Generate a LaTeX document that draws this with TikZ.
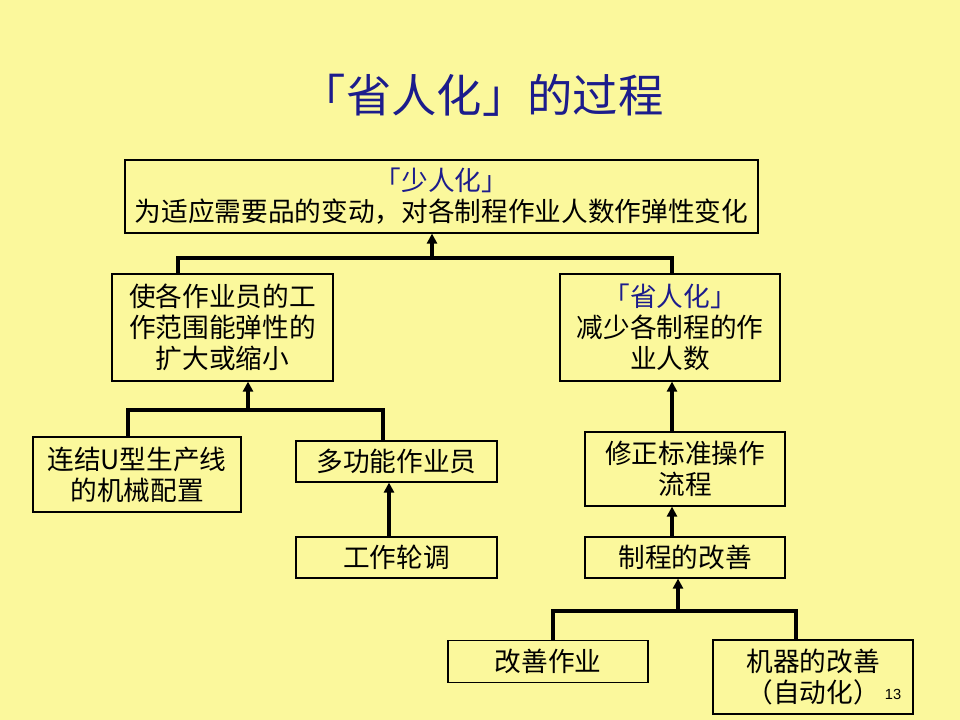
\documentclass[tikz,border=0pt]{standalone}
\usepackage{fontspec}
\newfontfamily\cjk{Noto Sans CJK SC}
\newfontfamily\pnfont{Liberation Sans}
\usetikzlibrary{arrows.meta}
\definecolor{bg}{HTML}{FBF89C}
\definecolor{tblue}{HTML}{1C1C8C}
\begin{document}
\begin{tikzpicture}[x=0.75pt,y=-0.75pt,
 box/.style={draw=black, line width=0.9pt, inner sep=0pt, align=center,
   font=\cjk\fontsize{20}{23.4}\selectfont, text=black},
 conn/.style={line width=2.6pt},
 arr/.style={line width=2.6pt,-{Triangle[length=7.5pt,width=7.5pt]}}]
\fill[bg] (0,0) rectangle (960,720);
\useasboundingbox (0,0) rectangle (960,720);

\node[font=\cjk\fontsize{34}{40}\selectfont, text=tblue] (title) at (482,95) {「省人化」的过程};

\node[box, minimum width=633*0.75pt, minimum height=73*0.75pt] (top) at (441.5,196.5)
  {\textcolor{tblue}{「少人化」}\\为适应需要品的变动，对各制程作业人数作弹性变化};
\node[box, minimum width=221*0.75pt, minimum height=107*0.75pt] (left2) at (222.5,327.5)
  {使各作业员的工\\作范围能弹性的\\扩大或缩小};
\node[box, minimum width=220*0.75pt, minimum height=107*0.75pt] (right2) at (670,327.5)
  {\textcolor{tblue}{「省人化」}\\减少各制程的作\\业人数};
\node[box, minimum width=208*0.75pt, minimum height=75*0.75pt] (ulink) at (137,474.5)
  {连结U型生产线\\的机械配置};
\node[box, minimum width=201*0.75pt, minimum height=41*0.75pt] (multi) at (396.5,461.5)
  {多功能作业员};
\node[box, minimum width=201*0.75pt, minimum height=41*0.75pt] (rot) at (396.5,557.5)
  {工作轮调};
\node[box, minimum width=200*0.75pt, minimum height=74*0.75pt] (fix) at (685,469)
  {修正标准操作\\流程};
\node[box, minimum width=200*0.75pt, minimum height=41*0.75pt] (proc) at (685,557.5)
  {制程的改善};
\node[box, minimum width=200*0.75pt, minimum height=42*0.75pt] (impr) at (548,661.5)
  {改善作业};
\node[box, minimum width=200*0.75pt, minimum height=74*0.75pt] (mach) at (813,677)
  {机器的改善\\（自动化）};
\node[font=\pnfont\fontsize{11}{13}\selectfont] (pnum) at (893,694) {13};

% level 1
\coordinate (a1) at (178,258);
\coordinate (a2) at (672,258);
\coordinate (aj) at (432,258);
\draw[conn] (a1 |- left2.north) -- (a1) -- (a2) -- (a2 |- right2.north);
\draw[arr] (aj) -- (aj |- top.south);

% level 2 left
\coordinate (b1) at (128,410);
\coordinate (b2) at (383,410);
\coordinate (bj) at (248,410);
\draw[conn] (b1 |- ulink.north) -- (b1) -- (b2) -- (b2 |- multi.north);
\draw[arr] (bj) -- (bj |- left2.south);

\coordinate (cx) at (389,0);
\draw[arr] (cx |- rot.north) -- (cx |- multi.south);

% right column
\coordinate (dx) at (672,0);
\draw[arr] (dx |- fix.north) -- (dx |- right2.south);
\draw[arr] (dx |- proc.north) -- (dx |- fix.south);

% level 3
\coordinate (e1) at (553,611);
\coordinate (e2) at (796,611);
\coordinate (ej) at (678,611);
\draw[conn] (e1 |- impr.north) -- (e1) -- (e2) -- (e2 |- mach.north);
\draw[arr] (ej) -- (ej |- proc.south);
\end{tikzpicture}
\end{document}
